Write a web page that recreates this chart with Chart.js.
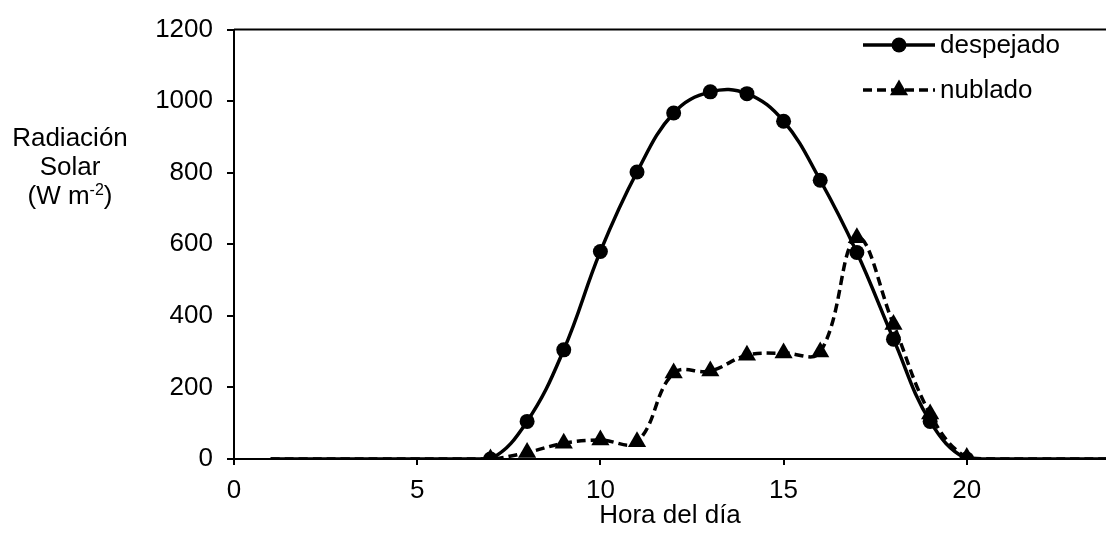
<!DOCTYPE html>
<html>
<head>
<meta charset="utf-8">
<script src="https://cdn.jsdelivr.net/npm/chart.js@4/dist/chart.umd.min.js"></script>
<style>
    body { margin: 0; background: #fff; }
    #wrap { position: relative; width: 1106px; height: 533px; }
    #ytitle {
        position: absolute; left: 0; top: 123px; width: 140px;
        text-align: center; font: 26px "Liberation Sans", Arial, sans-serif;
        line-height: 29px; color: #000;
    }
    #ytitle sup { font-size: 16px; line-height: 0; vertical-align: 9px; }
</style>
</head>
<body>
<div id="wrap">
    <canvas id="solarChart"></canvas>
    <div id="ytitle">Radiación<br>Solar<br>(W m<sup>-2</sup>)</div>
</div>
<script>
// datos
const hours = [1, 2, 3, 4, 5, 6, 7, 8, 9, 10, 11, 12, 13, 14, 15, 16, 17, 18, 19, 20, 21, 22, 23, 24];
const despejado = [0, 0, 0, 0, 0, 0, 0, 105, 305, 580, 802, 967, 1026, 1021, 944, 779, 577, 335, 105, 0, 0, 0, 0, 0];
const nublado = [0, 0, 0, 0, 0, 0, 0, 18, 44, 53, 48, 240, 246, 290, 296, 299, 618, 376, 126, 4, 0, 0, 0, 0];
const xTicks = [0, 5, 10, 15, 20];
const yTicks = [0, 200, 400, 600, 800, 1000, 1200];
const seriesNames = ['despejado', 'nublado'];

const FONT = '"Liberation Sans", Arial, sans-serif';

function toPoints(values) {
    return hours.map((h, i) => ({ x: h, y: values[i] }));
}

// marcadores solo de 7 a 20 h
function markerRadius(r) {
    return function(ctx) {
        const raw = ctx.raw;
        return raw && raw.x >= 7 && raw.x <= 20 ? r : 0;
    };
}

// borde superior y leyenda
const extras = {
    id: 'extras',
    afterDatasetsDraw(chart) {
        const c = chart.ctx;
        const a = chart.chartArea;
        c.save();
        c.strokeStyle = '#000';
        c.lineWidth = 2;
        c.beginPath();
        c.moveTo(a.left, a.top);
        c.lineTo(a.right, a.top);
        c.stroke();

        const rows = [45, 90];
        c.font = '26px ' + FONT;
        c.textBaseline = 'middle';
        c.fillStyle = '#000';
        rows.forEach((y, i) => {
            c.lineWidth = 3.5;
            c.setLineDash(i === 0 ? [] : [9, 5]);
            c.beginPath();
            c.moveTo(863, y);
            c.lineTo(935, y);
            c.stroke();
            c.setLineDash([]);
            c.beginPath();
            if (i === 0) {
                c.arc(899, y, 7.5, 0, Math.PI * 2);
            } else {
                const r = 10.5;
                c.moveTo(899, y - r);
                c.lineTo(899 + r * 0.866, y + r * 0.5);
                c.lineTo(899 - r * 0.866, y + r * 0.5);
                c.closePath();
            }
            c.fill();
            c.fillText(seriesNames[i], 940, y + 1);
        });
        c.restore();
    }
};

new Chart(document.getElementById('solarChart'), {
    type: 'line',
    data: {
        datasets: [
            {
                label: seriesNames[0],
                data: toPoints(despejado),
                borderColor: '#000',
                backgroundColor: '#000',
                borderWidth: 3.5,
                tension: 0.4,
                pointStyle: 'circle',
                pointRadius: markerRadius(7.5),
                pointBorderWidth: 0,
                pointHoverRadius: 0
            },
            {
                label: seriesNames[1],
                data: toPoints(nublado),
                borderColor: '#000',
                backgroundColor: '#000',
                borderWidth: 3.5,
                borderDash: [9, 5],
                tension: 0.4,
                pointStyle: 'triangle',
                pointRadius: markerRadius(10.5),
                pointBorderWidth: 0,
                pointHoverRadius: 0
            }
        ]
    },
    options: {
        responsive: true,
        maintainAspectRatio: false,
        animation: false,
        layout: { padding: { top: 21, left: 0, right: 0, bottom: 0 } },
        plugins: {
            legend: { display: false },
            tooltip: { enabled: false }
        },
        scales: {
            x: {
                type: 'linear',
                min: 0,
                max: 23.8,
                afterBuildTicks: function(scale) {
                    scale.ticks = xTicks.map(v => ({ value: v }));
                },
                afterFit: function(scale) { scale.height = 74; },
                ticks: {
                    color: '#000', font: { family: FONT, size: 26 }, padding: 10, maxRotation: 0,
                    callback: v => String(v)
                },
                grid: { drawOnChartArea: false, drawTicks: true, tickLength: 6, color: '#000', lineWidth: 2 },
                border: { color: '#000', width: 2 },
                title: {
                    display: true,
                    text: 'Hora del día',
                    color: '#000',
                    font: { family: FONT, size: 26 },
                    padding: { top: 0, bottom: 2 }
                }
            },
            y: {
                min: 0,
                max: 1200,
                afterBuildTicks: function(scale) {
                    scale.ticks = yTicks.map(v => ({ value: v }));
                },
                afterFit: function(scale) { scale.width = 234; },
                ticks: {
                    color: '#000', font: { family: FONT, size: 26 }, padding: 14,
                    callback: v => String(v)
                },
                grid: { drawOnChartArea: false, drawTicks: true, tickLength: 7, color: '#000', lineWidth: 2 },
                border: { color: '#000', width: 2 }
            }
        }
    },
    plugins: [extras]
});
</script>
</body>
</html>
